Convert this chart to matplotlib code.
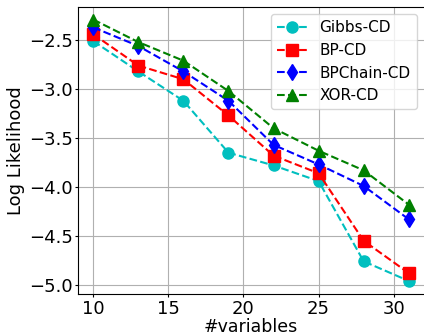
import matplotlib
matplotlib.use("Agg")
import matplotlib.pyplot as plt

# number of variables on the x axis
n_vars = [10, 13, 16, 19, 22, 25, 28, 31]

# log likelihood per method
gibbs_cd = [-2.51, -2.82, -3.12, -3.65, -3.78, -3.94, -4.76, -4.96]
bp_cd = [-2.44, -2.76, -2.90, -3.27, -3.68, -3.86, -4.55, -4.88]
bpchain_cd = [-2.37, -2.56, -2.82, -3.12, -3.57, -3.77, -3.99, -4.33]
xor_cd = [-2.29, -2.52, -2.71, -3.02, -3.40, -3.63, -3.83, -4.18]

fig = plt.figure(figsize=(4.24, 3.33), dpi=100)
ax = fig.add_axes([77.5 / 424, 39 / 333, 347 / 424, 287.5 / 333])

ax.plot(n_vars, gibbs_cd, 'c--o', label='Gibbs-CD', markersize=8)
ax.plot(n_vars, bp_cd, 'r--s', label='BP-CD', markersize=8)
ax.plot(n_vars, bpchain_cd, 'b--d', label='BPChain-CD', markersize=8)
ax.plot(n_vars, xor_cd, 'g--^', label='XOR-CD', markersize=8)

ax.set_xlabel('#variables', fontsize=12.5, labelpad=0)
ax.set_ylabel('Log Likelihood', fontsize=13, labelpad=3)
ax.tick_params(labelsize=13, length=2.5, pad=1.5)
ax.tick_params(axis='y', pad=1)
ax.set_xticks([10, 15, 20, 25, 30])
ax.grid(True)
ax.legend(loc='upper right', fontsize=11)

fig.savefig('out.png', dpi=100)
